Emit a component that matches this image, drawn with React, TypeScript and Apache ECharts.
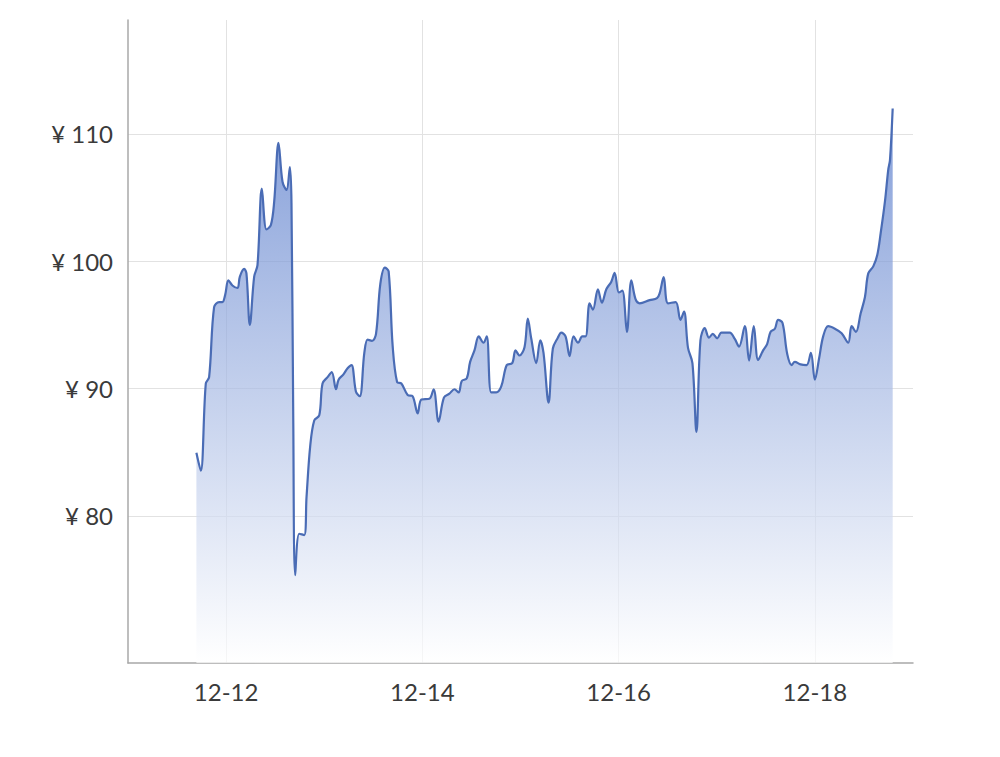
import React, { useEffect, useRef } from "react";
import * as echarts from "echarts";

// hours after 2023-12-11 00:00
const hours = [
  16.73, 17.8, 19.03, 19.84, 21.06, 22.29, 23.09, 23.76, 24.56, 25.54, 26.77, 27.36, 28.41, 28.97, 29.8,
  30.86, 31.67, 32.74, 33.87, 34.95, 35.76, 36.81, 37.79, 38.77, 39.6, 39.99, 40.41, 40.9, 41.88, 43.1,
  43.67, 44.57, 45.55, 46.78, 47.58, 48.81, 49.84, 50.87, 51.5, 52.65, 53.71, 54.66, 55.76, 56.69, 57.8,
  58.61, 59.68, 60.66, 61.71, 62.82, 63.75, 64.73, 65.83, 66.86, 68.4, 69.62, 70.85, 71.76, 73.71, 74.74,
  75.97, 77.27, 78.61, 79.84, 80.89, 81.63, 82.85, 83.68, 84.74, 85.79, 86.94, 87.75, 88.83, 90.05, 91.27,
  92.64, 93.97, 94.78, 95.76, 96.98, 97.79, 98.62, 99.85, 100.83, 101.63, 102.86, 103.91, 105.13, 105.97,
  107.02, 108.0, 108.98, 110.08, 111.11, 111.92, 112.9, 113.71, 114.93, 115.91, 116.99, 118.21, 119.02,
  120.07, 120.91, 122.03, 123.11, 124.16, 125.14, 127.59, 129.38, 130.04, 131.02, 132.07, 133.96, 135.11,
  135.99, 136.97, 138.05, 139.03, 140.01, 141.06, 142.11, 143.02, 144.12, 145.15, 147.18, 148.41, 149.46,
  150.86, 151.91, 153.06, 154.12, 155.34, 156.32, 157.15, 158.21, 159.01, 160.09, 161.22, 162.3, 163.1,
  164.5, 165.97, 167.02, 168.0, 169.05, 170.03, 171.26, 172.9, 174.54, 176.16, 176.99, 178.04, 179.19,
  180.25, 181.06, 182.28, 183.26, 184.09, 185.14, 185.95, 186.37, 187.03,
];

const prices = [
  84.96, 83.55, 90.4, 90.9, 96.4, 96.8, 96.8, 97.35, 98.5, 98.1, 97.9, 98.8, 99.4, 99.05, 95.0,
  98.8, 99.7, 105.7, 102.5, 102.85, 104.7, 109.3, 106.25, 105.6, 107.4, 104.5, 88.0, 75.35, 78.6, 78.5,
  81.5, 85.5, 87.5, 87.9, 90.4, 90.9, 91.3, 89.95, 90.7, 91.1, 91.6, 91.85, 89.75, 89.4, 92.8,
  93.85, 93.75, 94.3, 98.2, 99.5, 99.2, 93.35, 90.5, 90.4, 89.5, 89.4, 88.05, 89.15, 89.2, 89.95,
  87.4, 89.3, 89.6, 89.95, 89.7, 90.6, 90.8, 92.1, 93.0, 94.1, 93.6, 94.1, 89.7, 89.7, 90.15,
  91.85, 92.0, 93.0, 92.6, 93.25, 95.5, 93.95, 92.0, 93.8, 92.8, 88.9, 93.15, 94.0, 94.4,
  94.1, 92.55, 94.1, 93.6, 94.1, 94.1, 96.7, 96.2, 97.8, 96.75, 97.8, 98.4, 99.1,
  97.55, 97.7, 94.45, 98.5, 97.0, 96.7, 96.95, 97.1, 97.5, 98.75, 96.7, 96.8, 95.4,
  96.05, 93.2, 92.0, 86.6, 93.8, 94.75, 94.0, 94.3, 93.95, 94.4, 94.4, 93.9, 93.3,
  94.9, 92.2, 94.9, 92.25, 93.0, 93.5, 94.45, 94.7, 95.4, 95.15, 92.75, 91.85, 92.1,
  91.9, 91.85, 92.8, 90.7, 92.4, 94.1, 94.9, 94.7, 94.35, 93.6, 94.9, 94.45, 95.9,
  97.2, 99.05, 99.6, 100.5, 102.2, 104.7, 107.2, 107.95, 112.0,
];

const xTickLabels = ["12-12", "12-14", "12-16", "12-18"];
const yTickValues = [80, 90, 100, 110];

const HOUR = 3600 * 1000;
const BASE = Date.UTC(2023, 11, 11);

const fmtDate = (v: number) => {
  const d = new Date(v);
  const m = String(d.getUTCMonth() + 1).padStart(2, "0");
  const day = String(d.getUTCDate()).padStart(2, "0");
  return `${m}-${day}`;
};

const xTickValues = xTickLabels.map((s) => {
  const [m, d] = s.split("-").map(Number);
  return Date.UTC(2023, m - 1, d);
});

const FONT = "'Liberation Sans Narrow', Lato, sans-serif";

export default function App() {
  const ref = useRef<HTMLDivElement>(null);
  useEffect(() => {
    if (!ref.current) return;
    const chart = echarts.init(ref.current, undefined, { renderer: "svg" });
    const data = hours.map((h, i) => [BASE + h * HOUR, prices[i]]);
    chart.setOption({
      animation: false,
      backgroundColor: "#ffffff",
      grid: { left: 128, right: 87, top: 20, bottom: 94 },
      xAxis: {
        type: "value",
        min: BASE,
        max: BASE + 8 * 24 * HOUR,
        axisLine: { show: true, lineStyle: { color: "#a8a8a8", width: 1.5 } },
        axisTick: { show: false, customValues: xTickValues },
        axisLabel: {
          customValues: xTickValues,
          formatter: (v: number) => fmtDate(v),
          color: "#3a3a3a",
          fontFamily: FONT,
          fontSize: 24,
          margin: 16,
        },
        splitLine: { show: true, lineStyle: { color: "#e2e2e2", width: 1 } },
      },
      yAxis: {
        type: "value",
        min: 68.45,
        max: 118.95,
        axisLine: { show: true, lineStyle: { color: "#a8a8a8", width: 1.5 } },
        axisTick: { show: false, customValues: yTickValues },
        axisLabel: {
          customValues: yTickValues,
          formatter: "¥ {value}",
          color: "#3a3a3a",
          fontFamily: FONT,
          fontSize: 24,
          margin: 15,
        },
        splitLine: { show: true, lineStyle: { color: "#e2e2e2", width: 1 } },
      },
      series: [
        {
          type: "line",
          data,
          smooth: 0.35,
          symbol: "none",
          lineStyle: { color: "#4a6cb5", width: 2.2 },
          areaStyle: {
            color: new echarts.graphic.LinearGradient(0, 0, 0, 1, [
              { offset: 0, color: "#5176c9" },
              { offset: 1, color: "#ffffff" },
            ]),
          },
        },
      ],
    });
    return () => chart.dispose();
  }, []);
  return (
    <div
      ref={ref}
      style={{ position: "fixed", left: 0, top: 0, width: 1000, height: 757, background: "#fff" }}
    />
  );
}
